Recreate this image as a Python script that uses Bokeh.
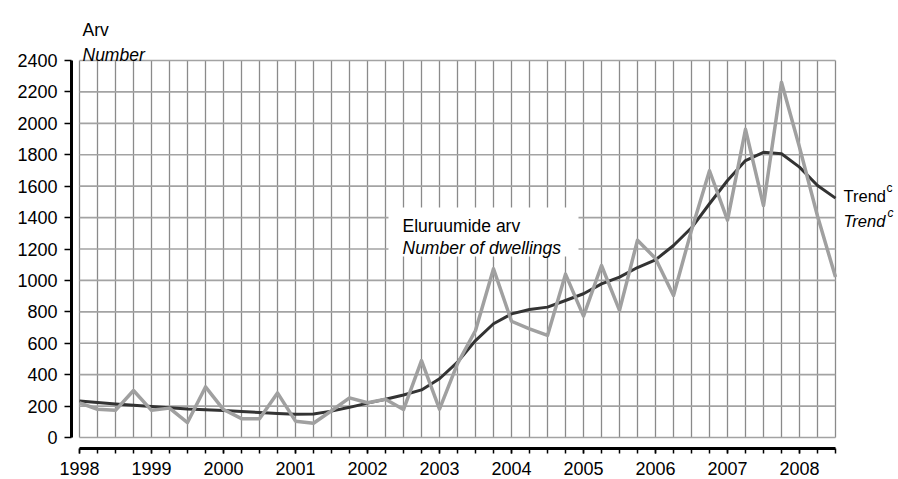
from bokeh.plotting import figure
from bokeh.models import LinearAxis, FixedTicker, Range1d, Label, BoxAnnotation, ColumnDataSource
from bokeh.embed import file_html
from bokeh.resources import INLINE

# ---------------- data ----------------
periods = [f"{yr}Q{q}" for yr in range(1998, 2009) for q in range(1, 5)][:43]
dwellings = [220, 180, 173, 299, 173, 187, 95, 322, 178, 120,
             120, 284, 104, 91, 170, 252, 221, 243, 178, 490,
             180, 470, 681, 1074, 740, 692, 650, 1040, 773, 1095,
             809, 1256, 1140, 904, 1320, 1698, 1384, 1962, 1477, 2262,
             1848, 1410, 1021]
trend = [233, 223, 214, 205, 197, 190, 182, 177, 172, 165,
         159, 153, 148, 150, 168, 192, 219, 243, 271, 303,
         374, 480, 617, 724, 787, 815, 830, 872, 915, 978,
         1021, 1082, 1131, 1222, 1335, 1488, 1636, 1763, 1816, 1806,
         1721, 1604, 1524]
y_ticks = [0, 200, 400, 600, 800, 1000, 1200, 1400, 1600, 1800, 2000, 2200, 2400]
year_ticks = [1998, 1999, 2000, 2001, 2002, 2003, 2004, 2005, 2006, 2007, 2008]

xq = [int(p[:4]) + (int(p[5]) - 1) / 4 for p in periods]

# ---------------- geometry (frame = whole canvas) ----------------
W, H = 898, 479
PX_YEAR = 72.0            # px per year
PX_UNIT = 377.0 / 2400.0  # px per dwelling
X0_PX, Y0_PX = 79, 437    # pixel of (1998, 0)
x_start = 1998 - X0_PX / PX_YEAR
x_end = x_start + W / PX_YEAR
y_start = -(H - Y0_PX) / PX_UNIT
y_end = Y0_PX / PX_UNIT

def X(px):
    return x_start + px / PX_YEAR

def Y(py):
    return (Y0_PX - py) / PX_UNIT

FONT = "Liberation Sans"

p = figure(width=W, height=H, x_range=Range1d(x_start, x_end), y_range=Range1d(y_start, y_end),
           output_backend="svg", toolbar_location=None, x_axis_type=None, y_axis_type=None,
           min_border=0, min_border_left=0, min_border_right=0, min_border_top=0, min_border_bottom=0)
p.outline_line_color = None
p.xgrid.visible = False
p.ygrid.visible = False
p.background_fill_color = "white"
p.border_fill_color = "white"

# axes (placed at fixed locations, offset from the grid like the reference)
yaxis = LinearAxis(ticker=FixedTicker(ticks=y_ticks), bounds=(y_ticks[0], y_ticks[-1]),
                   fixed_location=X(71))
yaxis.axis_line_width = 3
yaxis.axis_line_color = "black"
yaxis.major_tick_out = 7
yaxis.major_tick_in = 0
yaxis.major_tick_line_width = 1.5
yaxis.minor_tick_line_color = None
yaxis.major_label_standoff = 7
yaxis.major_label_text_font = FONT
yaxis.major_label_text_font_size = "18px"
yaxis.major_label_text_color = "black"
p.add_layout(yaxis, "left")

xaxis = LinearAxis(ticker=FixedTicker(ticks=year_ticks, minor_ticks=xq), bounds=(xq[0], xq[-1]),
                   fixed_location=Y(448))
xaxis.axis_line_width = 3
xaxis.axis_line_color = "black"
xaxis.major_tick_out = 5
xaxis.major_tick_in = 0
xaxis.minor_tick_out = 5
xaxis.minor_tick_in = 0
xaxis.major_tick_line_width = 1.5
xaxis.minor_tick_line_width = 1.5
xaxis.major_tick_line_color = "black"
xaxis.minor_tick_line_color = "black"
xaxis.major_label_standoff = 8
xaxis.major_label_text_font = FONT
xaxis.major_label_text_font_size = "18px"
xaxis.major_label_text_color = "black"
p.add_layout(xaxis, "below")

# grid lines as segments on data scales
p.segment(x0=xq, y0=[y_ticks[0]] * len(xq), x1=xq, y1=[y_ticks[-1]] * len(xq),
          line_color="#8a8a8a", line_width=1.3)
p.segment(x0=[xq[0]] * len(y_ticks), y0=y_ticks, x1=[xq[-1]] * len(y_ticks), y1=y_ticks,
          line_color="#a3a3a3", line_width=1.6)

src = ColumnDataSource(dict(x=xq, dwellings=dwellings, trend=trend))
p.line("x", "trend", source=src, line_color="#333333", line_width=3, line_join="round")
p.line("x", "dwellings", source=src, line_color="#a0a0a0", line_width=3.5, line_join="round")

# white box behind series label
p.add_layout(BoxAnnotation(left=X(388), right=X(578), top=Y(207), bottom=Y(256),
                           fill_color="white", fill_alpha=1.0, line_color=None))

def lab(text, px, py, size="17.5px", style="normal"):
    p.add_layout(Label(x=X(px), y=Y(py), text=text, text_font=FONT, text_font_size=size,
                       text_font_style=style, text_color="black",
                       text_align="left", text_baseline="alphabetic"))

lab("Arv", 82, 29)
lab("Number", 82, 54, style="italic")
lab("Eluruumide arv", 402, 225)
lab("Number of dwellings", 402, 247, style="italic")
lab("Trend", 843, 195, size="16.5px")
lab("c", 886, 187, size="12px")
lab("Trend", 843, 220, size="16.5px", style="italic")
lab("c", 887, 212, size="12px", style="italic")

open("out.html", "w").write(file_html(p, INLINE))
